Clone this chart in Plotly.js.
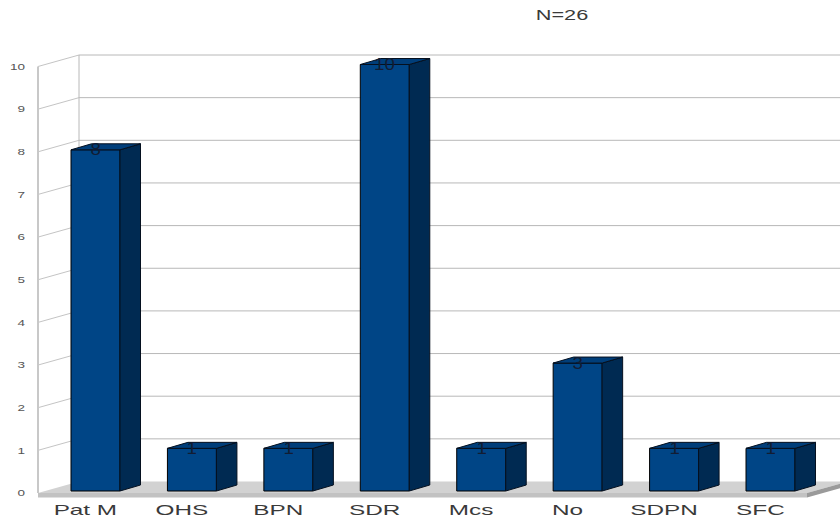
<!DOCTYPE html>
<html>
<head>
<meta charset="utf-8">
<script src="https://cdn.plot.ly/plotly-3.0.1.min.js"></script>
<style>html,body{margin:0;padding:0;background:#fff}</style>
</head>
<body>
<div id="chart" style="width:840px;height:519px"></div>
<script>
const categories = ["Pat M", "OHS", "BPN", "SDR", "Mcs", "No", "SDPN", "SFC"];
const values = [8, 1, 1, 10, 1, 3, 1, 1];
const yTicks = [0, 1, 2, 3, 4, 5, 6, 7, 8, 9, 10];
const chartNote = "N=26";

const FRONT = "#004586", SIDE = "#002a52", TOP = "#003e7a";
const pxX = 96.43, pxY = 42.65;
const dx = px => px / pxX, dy = px => px / pxY;
const barWidth = dx(49), barBase = dy(2);
const depthX = dx(20.5), depthY = dy(6);
const wallX = dx(41), wallY = dy(11.5);
const xLeft = dx(38 - 95.5), xFloorEnd = dx(807 - 95.5);

function poly(pts) {
  return "M" + pts.map(p => p[0] + "," + p[1]).join("L") + "Z";
}
const shapes = [];
function addPoly(pts, fill) {
  shapes.push({type: "path", layer: "below", xref: "x", yref: "y", path: poly(pts),
    fillcolor: fill, line: {width: 0}});
}
function addLine(x0, y0, x1, y1, color, w) {
  shapes.push({type: "line", layer: "below", xref: "x", yref: "y", x0, y0, x1, y1,
    line: {color, width: w}});
}
yTicks.filter(v => v > 0).forEach(v => {
  addLine(xLeft, v, xLeft + wallX, v + wallY, "#c4c4c4", 1);
  addLine(xLeft + wallX, v + wallY, dx(860 - 95.5), v + wallY, "#b8b8b8", 1);
});
addLine(xLeft, 0, xLeft, 10, "#c8c8c8", 2);
addLine(xLeft + wallX, wallY, xLeft + wallX, 10 + wallY, "#b8b8b8", 1);
addPoly([[xLeft, 0], [xLeft + wallX, wallY], [xFloorEnd + wallX, wallY], [xFloorEnd, 0]], "#d2d2d2");
addPoly([[xLeft, 0], [xFloorEnd, 0], [xFloorEnd, dy(-4.5)], [xLeft, dy(-4.5)]], "#c2c2c2");
addPoly([[xFloorEnd, 0], [xFloorEnd + wallX, wallY], [xFloorEnd + wallX, wallY + dy(-4.5)], [xFloorEnd, dy(-4.5)]], "#9a9a9a");

const idx = categories.map((_, i) => i);
const traces = [{
  type: "bar", x: idx, y: values, base: values.map(() => barBase), width: barWidth,
  marker: {color: FRONT, line: {color: "#000", width: 1}}, hoverinfo: "skip", showlegend: false
}];
function face(xs, ys, fill) {
  traces.push({type: "scatter", mode: "lines", x: xs, y: ys, fill: "toself", fillcolor: fill,
    line: {color: "#05101f", width: 1}, hoverinfo: "skip", showlegend: false});
}
values.forEach((v, i) => {
  const l = i - barWidth / 2, r = i + barWidth / 2, t = v + barBase, b = barBase;
  face([r, r + depthX, r + depthX, r, r], [b, b + depthY, t + depthY, t, b], SIDE);
  face([l, l + depthX, r + depthX, r, l], [t, t + depthY, t + depthY, t, t], TOP);
});

const layout = {
  width: 840, height: 519, showlegend: false,
  margin: {l: 30, r: 0, t: 30, b: 21, pad: 0},
  paper_bgcolor: "#fff", plot_bgcolor: "#fff",
  title: {text: chartNote, x: 562 / 840, xanchor: "center", y: 1 - 15 / 519, yanchor: "middle",
    font: {family: "Liberation Sans", size: 14, color: "#3a3a3a"}},
  xaxis: {range: [dx(30 - 95.5), dx(840 - 95.5)], tickmode: "array",
    tickvals: idx.map(i => i - 0.105), ticktext: categories, ticks: "", showgrid: false,
    zeroline: false, showline: false, ticklabelstandoff: 1,
    tickfont: {family: "Liberation Sans", size: 15, color: "#3a3a3a"}},
  yaxis: {range: [dy(-5), dy(463)], tickmode: "array", tickvals: yTicks, ticktext: yTicks.map(String),
    ticks: "", showgrid: false, zeroline: false, showline: false, ticklabelstandoff: 4,
    tickfont: {family: "Liberation Sans", size: 9, color: "#555"}},
  annotations: values.map((v, i) => ({
    xref: "x", yref: "y", x: i, y: v + barBase, text: String(v), showarrow: false,
    xanchor: "center", yanchor: "middle", yshift: 0,
    font: {family: "Liberation Sans", size: 17, color: "#121c33"}
  })),
  shapes
};

function stretch(sel, k) {
  document.querySelectorAll(sel).forEach(t => {
    t.removeAttribute("textLength");
    const len = t.getComputedTextLength();
    t.setAttribute("textLength", len * k);
    t.setAttribute("lengthAdjust", "spacingAndGlyphs");
  });
}
function applyStretch() {
  stretch(".xtick text", 1.62);
  stretch(".ytick text", 1.5);
  stretch(".gtitle", 1.55);
  stretch(".annotation-text", 1.1);
}
Plotly.newPlot("chart", traces, layout, {staticPlot: true, displayModeBar: false}).then(applyStretch);
</script>
</body>
</html>
